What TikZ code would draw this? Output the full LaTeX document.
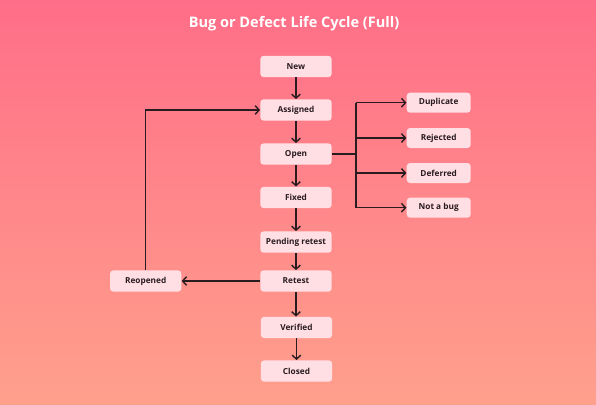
\documentclass[tikz,border=0pt]{standalone}
\usepackage{fontspec}
\setmainfont{Open Sans}
\usetikzlibrary{arrows.meta}
\definecolor{bgtop}{RGB}{255,110,136}
\definecolor{bgbot}{RGB}{255,160,140}
\definecolor{boxfill}{RGB}{255,222,228}
\definecolor{ink}{RGB}{40,28,32}
\tikzset{
  stagebox/.style={fill=boxfill, rounded corners=2.5pt, minimum width=53.5pt, minimum height=16pt, inner sep=0pt, text=ink, font=\fontsize{6.2}{8}\selectfont\bfseries},
  sidebox/.style={stagebox, minimum width=48pt, minimum height=15pt},
  conn/.style={draw=ink, line width=1.05pt},
  arr/.style={conn, -{Straight Barb[length=3pt,width=6.5pt,line width=1.05pt]}}
}
\begin{document}
\begin{tikzpicture}[x=0.75pt,y=-0.75pt]
\shade[top color=bgtop, bottom color=bgbot] (0,0) rectangle (596,404);
\useasboundingbox (0,0) rectangle (596,404);
\node[text=white, font=\fontsize{10.9}{13}\selectfont\bfseries] (title) at (294,24) {Bug or Defect Life Cycle (Full)};
\node[stagebox] (new) at (296,66.5) {New};
\node[stagebox] (assigned) at (296,110) {Assigned};
\node[stagebox] (open) at (296,154) {Open};
\node[stagebox] (fixed) at (296,197.5) {Fixed};
\node[stagebox] (pending) at (296,242) {Pending retest};
\node[stagebox] (retest) at (296,281) {Retest};
\node[stagebox] (verified) at (296.5,327.5) {Verified};
\node[stagebox] (closed) at (296.5,371) {Closed};
\node[stagebox] (reopened) at (145.7,281) {Reopened};
\node[sidebox] (dup) at (438.7,102.7) {Duplicate};
\node[sidebox] (rej) at (438.7,138) {Rejected};
\node[sidebox] (def) at (438.7,173) {Deferred};
\node[sidebox] (nab) at (438.7,207.7) {Not a bug};
\coordinate (branch) at (356,154);
\draw[arr] (new) -- (assigned);
\draw[arr] (assigned) -- (open);
\draw[arr] (open) -- (fixed);
\draw[arr] (fixed) -- (pending);
\draw[arr] (pending) -- (retest);
\draw[arr] (retest) -- (verified.north -| retest);
\draw[arr] (verified) -- (closed);
\draw[conn] (open.east) -- (branch);
\draw[conn] (branch |- dup) -- (branch |- nab);
\draw[arr] (branch |- dup) -- (dup.west);
\draw[arr] (branch |- rej) -- (rej.west);
\draw[arr] (branch |- def) -- (def.west);
\draw[arr] (branch |- nab) -- (nab.west);
\draw[arr] (retest.west) -- (reopened.east);
\draw[arr] (reopened.north) |- (assigned.west);
\end{tikzpicture}
\end{document}
